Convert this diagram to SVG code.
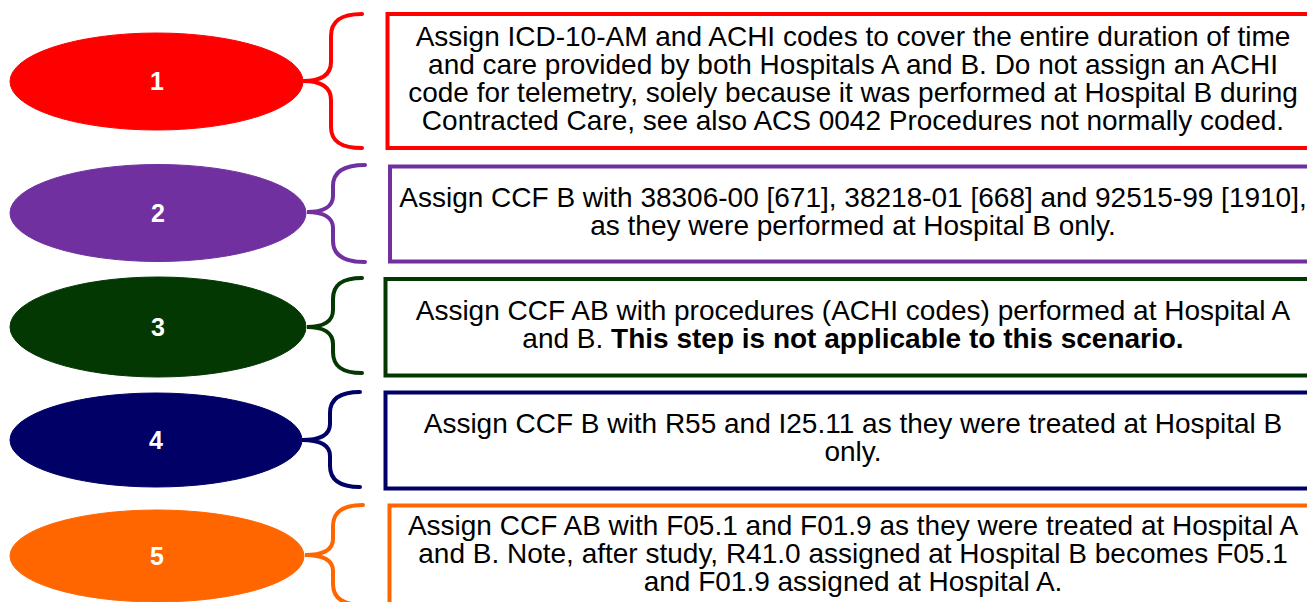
<svg xmlns="http://www.w3.org/2000/svg" width="1307" height="602" viewBox="0 0 1307 602">
  <style>
    .num { font-family: "Liberation Sans", Arial, sans-serif; font-size: 25px; font-weight: bold; fill: #ffffff; text-anchor: middle; }
    .txt { font-family: "Liberation Sans", Arial, sans-serif; font-size: 28px; fill: #000000; text-anchor: middle; }
    .box { fill: #ffffff; stroke-width: 4; }
    .brace { fill: none; stroke-width: 4; stroke-linecap: round; }
    .c1 { fill: #ff0000; stroke: #ff0000; }
    .c2 { fill: #7030a0; stroke: #7030a0; }
    .c3 { fill: #033803; stroke: #033803; }
    .c4 { fill: #000066; stroke: #000066; }
    .c5 { fill: #ff6600; stroke: #ff6600; }
  </style>
  <rect width="1307" height="602" fill="#ffffff"/>

  <!-- curly braces linking each numbered step to its description -->
  <g id="connectors">
    <path class="brace c1" style="fill:none" d="M362,14 C342,14 331,20 331,36 L331,62 C331,75 321,81 303,81 C321,81 331,87 331,100 L331,127 C331,142 342,148 362,148"/>
    <path class="brace c2" style="fill:none" d="M365,165 C345,165 333,171 333,186 L333,196 C333,206 324,212 307,212 C324,212 333,218 333,228 L333,241 C333,256 345,262 365,262"/>
    <path class="brace c3" style="fill:none" d="M362,278 C343,278 333,284 333,299 L333,310 C333,321 324,327 307,327 C324,327 333,333 333,344 L333,352 C333,367 343,373 362,373"/>
    <path class="brace c4" style="fill:none" d="M360,392 C341,392 330,398 330,413 L330,424 C330,434 321,440 302,440 C321,440 330,446 330,456 L330,466 C330,481 341,487 360,487"/>
    <path class="brace c5" style="fill:none" d="M363,505 C344,505 333,511 333,526 L333,539 C333,549 324,555 305,555 C324,555 333,561 333,571 L333,584 C333,599 344,605 363,605"/>
  </g>

  <g id="step1">
    <ellipse class="c1" cx="156.5" cy="81.5" rx="146.5" ry="48.5"/>
    <text class="num" x="157" y="90">1</text>
    <rect class="box" stroke="#ff0000" x="387.5" y="14" width="940" height="134"/>
    <text class="txt" x="853" y="46">Assign ICD-10-AM and ACHI codes to cover the entire duration of time</text>
    <text class="txt" x="853" y="74">and care provided by both Hospitals A and B. Do not assign an ACHI</text>
    <text class="txt" x="853" y="102">code for telemetry, solely because it was performed at Hospital B during</text>
    <text class="txt" x="853" y="130">Contracted Care, see also ACS 0042 Procedures not normally coded.</text>
  </g>

  <g id="step2">
    <ellipse class="c2" cx="158" cy="213" rx="148" ry="48.5"/>
    <text class="num" x="158" y="222">2</text>
    <rect class="box" stroke="#7030a0" x="390" y="166.5" width="940" height="95"/>
    <text class="txt" x="853" y="207">Assign CCF B with 38306-00 [671], 38218-01 [668] and 92515-99 [1910],</text>
    <text class="txt" x="853" y="235">as they were performed at Hospital B only.</text>
  </g>

  <g id="step3">
    <ellipse class="c3" cx="158" cy="327" rx="148" ry="50"/>
    <text class="num" x="158" y="336">3</text>
    <rect class="box" stroke="#033803" x="385.5" y="279" width="940" height="96.5"/>
    <text class="txt" x="853" y="320">Assign CCF AB with procedures (ACHI codes) performed at Hospital A</text>
    <text class="txt" x="853" y="348">and B. <tspan font-weight="bold">This step is not applicable to this scenario.</tspan></text>
  </g>

  <g id="step4">
    <ellipse class="c4" cx="156" cy="440" rx="146" ry="47"/>
    <text class="num" x="156" y="449">4</text>
    <rect class="box" stroke="#000066" x="385.5" y="392.5" width="940" height="96"/>
    <text class="txt" x="853" y="433">Assign CCF B with R55 and I25.11 as they were treated at Hospital B</text>
    <text class="txt" x="853" y="461">only.</text>
  </g>

  <g id="step5">
    <ellipse class="c5" cx="157" cy="556" rx="147" ry="46"/>
    <text class="num" x="157" y="565">5</text>
    <rect class="box" stroke="#ff6600" x="389.5" y="505.5" width="940" height="110"/>
    <text class="txt" x="853" y="535">Assign CCF AB with F05.1 and F01.9 as they were treated at Hospital A</text>
    <text class="txt" x="853" y="563">and B. Note, after study, R41.0 assigned at Hospital B becomes F05.1</text>
    <text class="txt" x="853" y="591">and F01.9 assigned at Hospital A.</text>
  </g>
</svg>
